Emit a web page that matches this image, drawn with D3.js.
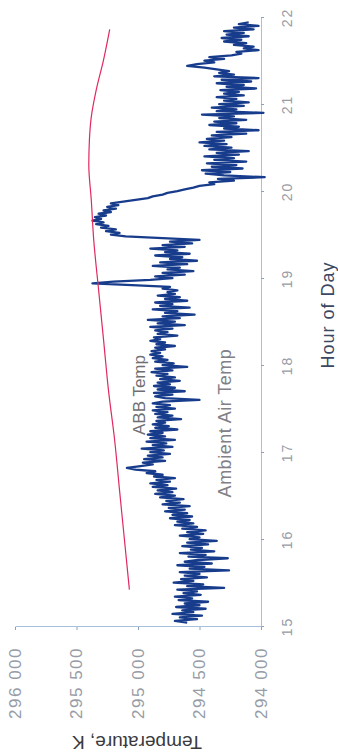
<!DOCTYPE html>
<meta charset="utf-8">
<style>
  body { margin: 0; background: #fff; }
  svg text { font-family: "Liberation Sans", Arial, sans-serif; }
</style>
<body>
<script src="https://d3js.org/d3.v7.min.js"></script>
<script>
// tick values
var hourTicks = [15, 16, 17, 18, 19, 20, 21, 22];
var tempTicks = [294, 294.5, 295, 295.5, 296];

// ABB temperature (smooth red curve), [hour, K]
var abbTemp = [
  [15.43, 295.07], [16.00, 295.11], [16.57, 295.15], [17.15, 295.19], [17.72, 295.24],
  [18.30, 295.28], [18.87, 295.32], [19.45, 295.36], [19.91, 295.38], [20.31, 295.40],
  [20.60, 295.395], [20.86, 295.38], [21.17, 295.34], [21.52, 295.28], [21.87, 295.23]
];

// ambient air temperature (noisy blue trace), [hour, K]
var airTemp = [
  [15.05,294.60],[15.07,294.70],[15.09,294.52],[15.11,294.66],[15.13,294.48],[15.15,294.72],
  [15.17,294.55],[15.19,294.64],[15.21,294.45],[15.23,294.69],[15.25,294.50],[15.27,294.62],
  [15.29,294.43],[15.31,294.67],[15.33,294.56],[15.35,294.70],[15.37,294.49],[15.39,294.63],
  [15.41,294.52],[15.43,294.68],[15.45,294.30],[15.47,294.60],[15.49,294.47],[15.51,294.71],
  [15.53,294.55],[15.55,294.65],[15.57,294.44],[15.59,294.62],[15.61,294.50],[15.63,294.66],
  [15.65,294.26],[15.67,294.58],[15.69,294.46],[15.71,294.68],[15.73,294.40],[15.75,294.62],
  [15.77,294.51],[15.79,294.27],[15.81,294.59],[15.83,294.45],[15.85,294.66],[15.87,294.38],
  [15.89,294.57],[15.91,294.48],[15.93,294.64],[15.95,294.43],[15.97,294.60],[15.99,294.36],
  [16.01,294.58],[16.03,294.50],[16.05,294.66],[16.07,294.47],[16.09,294.60],[16.11,294.45],
  [16.13,294.64],[16.15,294.52],[16.17,294.70],[16.19,294.55],[16.21,294.68],[16.23,294.58],
  [16.25,294.74],[16.27,294.56],[16.29,294.72],[16.31,294.60],[16.33,294.78],[16.35,294.62],
  [16.37,294.75],[16.39,294.58],[16.41,294.80],[16.43,294.66],[16.45,294.77],[16.47,294.63],
  [16.49,294.82],[16.51,294.70],[16.53,294.86],[16.55,294.72],[16.57,294.84],[16.59,294.69],
  [16.61,294.88],[16.63,294.76],[16.65,294.90],[16.67,294.74],[16.69,294.85],[16.71,294.70],
  [16.73,294.87],[16.75,294.80],[16.77,294.93],[16.79,294.86],[16.81,295.02],[16.83,295.09],
  [16.85,294.98],[16.87,294.88],[16.89,294.96],[16.91,294.78],[16.93,294.95],[16.95,294.80],
  [16.97,294.92],[16.99,294.74],[17.01,294.90],[17.03,294.79],[17.05,294.97],[17.07,294.72],
  [17.09,294.88],[17.11,294.77],[17.13,294.93],[17.15,294.70],[17.17,294.90],[17.19,294.78],
  [17.21,294.92],[17.23,294.80],[17.25,294.90],[17.27,294.68],[17.29,294.86],[17.31,294.75],
  [17.33,294.88],[17.35,294.78],[17.37,294.85],[17.39,294.65],[17.41,294.84],[17.43,294.72],
  [17.45,294.86],[17.47,294.76],[17.49,294.88],[17.51,294.70],[17.53,294.85],[17.55,294.74],
  [17.57,294.88],[17.59,294.80],[17.61,294.50],[17.63,294.78],[17.65,294.86],[17.67,294.72],
  [17.69,294.87],[17.71,294.62],[17.73,294.84],[17.75,294.70],[17.77,294.87],[17.79,294.74],
  [17.81,294.84],[17.83,294.66],[17.85,294.82],[17.87,294.70],[17.89,294.85],[17.91,294.76],
  [17.93,294.89],[17.95,294.72],[17.97,294.86],[17.99,294.60],[18.01,294.80],[18.03,294.71],
  [18.05,294.86],[18.07,294.76],[18.09,294.88],[18.11,294.80],[18.13,294.90],[18.15,294.82],
  [18.17,294.89],[18.19,294.78],[18.21,294.86],[18.23,294.70],[18.25,294.85],[18.27,294.78],
  [18.29,294.90],[18.31,294.82],[18.33,294.87],[18.35,294.68],[18.37,294.84],[18.39,294.76],
  [18.41,294.86],[18.43,294.72],[18.45,294.90],[18.47,294.62],[18.49,294.84],[18.51,294.70],
  [18.53,294.92],[18.55,294.66],[18.57,294.80],[18.59,294.54],[18.61,294.78],[18.63,294.68],
  [18.65,294.88],[18.67,294.58],[18.69,294.82],[18.71,294.72],[18.73,294.86],[18.75,294.60],
  [18.77,294.78],[18.79,294.66],[18.81,294.84],[18.83,294.70],[18.85,294.76],[18.87,294.68],
  [18.89,294.80],[18.91,294.74],[18.93,295.05],[18.95,295.37],[18.97,295.20],[18.99,294.90],
  [19.01,294.72],[19.03,294.86],[19.05,294.62],[19.07,294.80],[19.09,294.55],[19.11,294.76],
  [19.13,294.66],[19.15,294.88],[19.17,294.60],[19.19,294.82],[19.21,294.52],[19.23,294.74],
  [19.25,294.64],[19.27,294.86],[19.29,294.58],[19.31,294.78],[19.33,294.68],[19.35,294.90],
  [19.37,294.62],[19.39,294.80],[19.41,294.56],[19.43,294.74],[19.45,294.50],[19.47,294.80],
  [19.49,295.10],[19.51,295.22],[19.53,295.15],[19.55,295.26],[19.57,295.18],[19.59,295.30],
  [19.61,295.24],[19.63,295.34],[19.65,295.28],[19.67,295.37],[19.69,295.30],[19.71,295.35],
  [19.73,295.26],[19.75,295.32],[19.77,295.22],[19.79,295.28],[19.81,295.18],[19.83,295.25],
  [19.85,295.16],[19.87,295.22],[19.89,295.12],[19.91,295.02],[19.93,294.92],[19.95,294.88],
  [19.97,294.80],[19.99,294.76],[20.01,294.68],[20.03,294.62],[20.05,294.55],[20.07,294.50],
  [20.09,294.38],[20.11,294.42],[20.13,294.22],[20.15,294.35],[20.17,293.97],[20.19,294.30],
  [20.21,294.45],[20.23,294.25],[20.25,294.48],[20.27,294.15],[20.29,294.40],[20.31,294.20],
  [20.33,294.44],[20.35,294.12],[20.37,294.38],[20.39,294.22],[20.41,294.46],[20.43,294.18],
  [20.45,294.36],[20.47,294.10],[20.49,294.42],[20.51,294.24],[20.53,294.46],[20.55,294.28],
  [20.57,294.50],[20.59,294.30],[20.61,294.44],[20.63,294.24],[20.65,294.40],[20.67,294.12],
  [20.69,294.36],[20.71,294.02],[20.73,294.30],[20.75,294.18],[20.77,294.42],[20.79,294.20],
  [20.81,294.38],[20.83,294.12],[20.85,294.34],[20.87,294.22],[20.89,294.48],[20.91,293.98],
  [20.93,294.36],[20.95,294.20],[20.97,294.40],[20.99,294.14],[21.01,294.34],[21.03,294.10],
  [21.05,294.30],[21.07,294.20],[21.09,294.36],[21.11,294.14],[21.13,294.30],[21.15,294.18],
  [21.17,294.33],[21.19,294.04],[21.21,294.28],[21.23,294.14],[21.25,294.36],[21.27,294.08],
  [21.29,294.32],[21.31,294.02],[21.33,294.38],[21.35,294.22],[21.37,294.34],[21.39,294.26],
  [21.41,294.36],[21.43,294.46],[21.45,294.60],[21.47,294.52],[21.49,294.38],[21.51,294.46],
  [21.53,294.30],[21.55,294.42],[21.57,294.24],[21.59,294.16],[21.61,294.20],[21.63,294.02],
  [21.65,294.14],[21.67,294.06],[21.69,294.22],[21.71,294.12],[21.73,294.30],[21.75,294.16],
  [21.77,294.32],[21.79,294.10],[21.81,294.28],[21.83,294.14],[21.85,294.30],[21.87,294.06],
  [21.89,294.22],[21.91,294.02],[21.93,294.18],[21.95,294.10]
];

var W = 338, H = 753;

var svg = d3.select('body').append('svg')
  .attr('width', W)
  .attr('height', H);

// the chart lies on its side: draw it in a landscape frame and turn it a quarter turn
var chart = svg.append('g')
  .attr('transform', 'translate(0,' + H + ') rotate(-90)');

var x = d3.scaleLinear().domain([15, 22]).range([126, 735]);
var y = d3.scaleLinear().domain([294, 296]).range([261, 15]);

var axisColor = '#a9c0dc';
var tickText = '#979ca6';

// hour axis
var xa = chart.append('g')
  .attr('transform', 'translate(0,' + y(294) + ')')
  .call(d3.axisBottom(x).tickValues(hourTicks).tickSize(3).tickSizeOuter(0).tickPadding(18)
    .tickFormat(d3.format('d')));
xa.select('.domain').attr('stroke', axisColor);
xa.selectAll('.tick line').attr('stroke', '#8aa2c0');
xa.selectAll('.tick text')
  .attr('fill', tickText)
  .style('font-size', '14px')
  .style('letter-spacing', '2px');

// temperature axis
var ya = chart.append('g')
  .attr('transform', 'translate(' + x(15) + ',0)')
  .call(d3.axisLeft(y).tickValues(tempTicks).tickSize(3).tickSizeOuter(0).tickPadding(17)
    .tickFormat(function(d) { return d3.format('.3f')(d).replace('.', ' '); }));
ya.select('.domain').attr('stroke', axisColor);
ya.selectAll('.tick line').attr('stroke', '#8aa2c0');
ya.selectAll('.tick text')
  .attr('fill', tickText)
  .style('font-size', '17px')
  .style('letter-spacing', '1.5px');

// ambient air trace
chart.append('path')
  .datum(airTemp)
  .attr('d', d3.line().x(function(d) { return x(d[0]); }).y(function(d) { return y(d[1]); }))
  .attr('fill', 'none')
  .attr('stroke', '#183c8c')
  .attr('stroke-width', 2.3)
  .attr('stroke-linejoin', 'round');

// ABB trace
chart.append('path')
  .datum(abbTemp)
  .attr('d', d3.line().curve(d3.curveMonotoneX)
    .x(function(d) { return x(d[0]); }).y(function(d) { return y(d[1]); }))
  .attr('fill', 'none')
  .attr('stroke', '#e0295f')
  .attr('stroke-width', 1.2);

// labels
chart.append('text')
  .attr('x', 358).attr('y', 145)
  .attr('text-anchor', 'middle')
  .attr('fill', '#6f6f73')
  .style('font-size', '17px')
  .text('ABB Temp');

chart.append('text')
  .attr('x', 330).attr('y', 231)
  .attr('text-anchor', 'middle')
  .attr('fill', '#808086')
  .style('font-size', '18px')
  .style('letter-spacing', '0.5px')
  .text('Ambient Air Temp');

chart.append('text')
  .attr('x', 438).attr('y', 334)
  .attr('text-anchor', 'middle')
  .attr('fill', '#3b4763')
  .style('font-size', '18px')
  .style('letter-spacing', '1px')
  .text('Hour of Day');

chart.append('text')
  .attr('transform', 'translate(17,137) rotate(-90)')
  .attr('text-anchor', 'middle')
  .attr('fill', '#3a3a3e')
  .style('font-size', '19px')
  .text('Temperature, K');
</script>
</body>
